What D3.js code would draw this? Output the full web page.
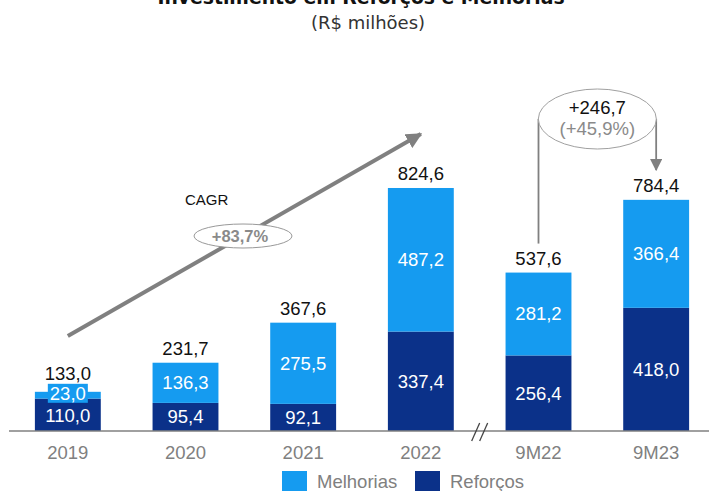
<!DOCTYPE html>
<html>
<head>
<meta charset="utf-8">
<script src="https://cdn.jsdelivr.net/npm/d3@7"></script>
<style>
  html, body { margin: 0; padding: 0; background: #fff; }
  svg { display: block; }
</style>
</head>
<body>
<svg id="chart" width="709" height="491"></svg>
<script>
// Investment in reinforcements (Reforços) and improvements (Melhorias), R$ millions
const categories = ["2019", "2020", "2021", "2022", "9M22", "9M23"];
const reforcos   = [110.0, 95.4, 92.1, 337.4, 256.4, 418.0];
const melhorias  = [23.0, 136.3, 275.5, 487.2, 281.2, 366.4];
const totals     = [133.0, 231.7, 367.6, 824.6, 537.6, 784.4];
const seriesNames = ["Melhorias", "Reforços"];
const cagrLabel = "+83,7%";
const deltaLabel = "+246,7";
const deltaPctLabel = "(+45,9%)";

const COLOR_MELHORIAS = "#159bf0";
const COLOR_REFORCOS = "#0b3189";
const GREY = "#808080";
const FONT = "'Liberation Sans', Arial, sans-serif";

const fmt = v => d3.format(".1f")(v).replace(".", ",");

const svg = d3.select("#chart");

const x = d3.scaleBand()
  .domain(categories)
  .range([9, 715])
  .paddingInner(0.44)
  .paddingOuter(0.22);

const y = d3.scaleLinear()
  .domain([0, 900])
  .range([431, 431 - 900 * 0.2947]);

const rows = categories.map((c, i) => ({ cat: c, reforcos: reforcos[i], melhorias: melhorias[i], total: totals[i] }));
const stack = d3.stack().keys(["reforcos", "melhorias"])(rows);
const colorOf = { reforcos: COLOR_REFORCOS, melhorias: COLOR_MELHORIAS };

// Titles (the main title runs off the top edge of the frame)
svg.append("text")
  .attr("x", 361).attr("y", 4)
  .attr("text-anchor", "middle")
  .style("font-family", "'DejaVu Sans', Verdana, sans-serif")
  .style("font-weight", "bold").style("font-size", "18.8px")
  .attr("fill", "#111")
  .text("Investimento em Reforços e Melhorias");

svg.append("text")
  .attr("x", 368).attr("y", 29)
  .attr("text-anchor", "middle")
  .style("font-family", "'DejaVu Sans', Verdana, sans-serif")
  .style("font-size", "18px")
  .attr("fill", "#333")
  .text("(R$ milhões)");

// Stacked bars
const layers = svg.append("g").selectAll("g")
  .data(stack).join("g")
  .attr("fill", d => colorOf[d.key]);

layers.selectAll("rect")
  .data(d => d).join("rect")
  .attr("x", d => x(d.data.cat))
  .attr("width", x.bandwidth())
  .attr("y", d => y(d[1]))
  .attr("height", d => y(d[0]) - y(d[1]));

// Baseline axis
svg.append("line")
  .attr("x1", 9).attr("x2", 709)
  .attr("y1", y(0)).attr("y2", y(0))
  .attr("stroke", GREY).attr("stroke-width", 1.5);

// Axis break marks between 2022 and 9M22
const brk = (x(categories[3]) + x.bandwidth() + x(categories[4])) / 2;
[-4, 4].forEach(o => {
  svg.append("line")
    .attr("x1", brk + o - 4).attr("y1", y(0) + 10)
    .attr("x2", brk + o + 4).attr("y2", y(0) - 8)
    .attr("stroke", "#444").attr("stroke-width", 1.3);
});

// Category labels
const xAxis = d3.axisBottom(x).tickSize(0).tickPadding(10);
const gx = svg.append("g").attr("transform", `translate(0,${y(0)})`).call(xAxis);
gx.select(".domain").remove();
gx.selectAll("text")
  .style("font-family", FONT).style("font-size", "18.5px")
  .attr("fill", GREY).attr("dy", "0.95em");

// Segment value labels
const segLabels = svg.append("g")
  .style("font-family", FONT).style("font-size", "18.5px")
  .attr("text-anchor", "middle");

rows.forEach((r, i) => {
  const cx = x(r.cat) + x.bandwidth() / 2;
  const yRef = (y(0) + y(r.reforcos)) / 2;
  let yMel = (y(r.reforcos) + y(r.reforcos + r.melhorias)) / 2;
  if (i === 0) {
    // thin segment: label gets its own small box
    yMel = y(r.reforcos + r.melhorias) + 1.5;
    boxedLabel(cx, yMel, fmt(r.melhorias));
  } else {
    segLabels.append("text").attr("x", cx).attr("y", yMel).attr("dy", "0.35em")
      .attr("fill", "#fff").text(fmt(r.melhorias));
  }
  segLabels.append("text").attr("x", cx).attr("y", i === 0 ? yRef + 0.5 : yRef).attr("dy", "0.35em")
    .attr("fill", "#fff").text(fmt(r.reforcos));
  // total on top
  segLabels.append("text").attr("x", cx)
    .attr("y", y(r.total) - (i === 0 ? 12 : 8))
    .attr("fill", "#111").text(fmt(r.total));
});

function boxedLabel(cx, cy, label) {
  const t = segLabels.append("text").attr("x", cx).attr("y", cy).attr("dy", "0.35em")
    .attr("fill", "#fff").text(label);
  const bb = t.node().getBBox();
  segLabels.insert("rect", () => t.node())
    .attr("x", bb.x - 2).attr("y", cy - 9.5)
    .attr("width", bb.width + 4).attr("height", 19)
    .attr("fill", COLOR_MELHORIAS);
}

// Arrow markers
const defs = svg.append("defs");
defs.append("marker")
  .attr("id", "arrow")
  .attr("viewBox", "0 0 10 10")
  .attr("refX", 9).attr("refY", 5)
  .attr("markerWidth", 4).attr("markerHeight", 4)
  .attr("markerUnits", "strokeWidth")
  .attr("orient", "auto")
  .append("path").attr("d", "M0,0 L10,5 L0,10 z").attr("fill", GREY);

defs.append("marker")
  .attr("id", "arrowThin")
  .attr("viewBox", "0 0 10 10")
  .attr("refX", 9).attr("refY", 5)
  .attr("markerWidth", 7).attr("markerHeight", 7)
  .attr("markerUnits", "strokeWidth")
  .attr("orient", "auto")
  .append("path").attr("d", "M0,0 L10,5 L0,10 z").attr("fill", GREY);

// CAGR trend arrow from 2019 to 2022
const ax0 = x(categories[0]) + x.bandwidth() / 2;
const ax1 = x(categories[3]) + x.bandwidth() / 2;
svg.append("line")
  .attr("x1", ax0).attr("y1", 336)
  .attr("x2", ax1).attr("y2", 134)
  .attr("stroke", GREY).attr("stroke-width", 4)
  .attr("marker-end", "url(#arrow)");

svg.append("text")
  .attr("x", 185).attr("y", 205)
  .style("font-family", FONT).style("font-size", "15px")
  .attr("fill", "#111").text("CAGR");

svg.append("ellipse")
  .attr("cx", 243).attr("cy", 236).attr("rx", 49).attr("ry", 12)
  .attr("fill", "#fff").attr("stroke", "#999").attr("stroke-width", 1);

svg.append("text")
  .attr("x", 240).attr("y", 236).attr("dy", "0.36em")
  .attr("text-anchor", "middle")
  .style("font-family", FONT).style("font-size", "16.5px").style("font-weight", "bold")
  .attr("fill", "#8a8a8a").text(cagrLabel);

// 9M22 -> 9M23 change bracket
const bx0 = x(categories[4]) + x.bandwidth() / 2;
const bx1 = x(categories[5]) + x.bandwidth() / 2;
const ecx = (bx0 + bx1) / 2;
svg.append("line")
  .attr("x1", bx0).attr("y1", y(totals[4]) - 29)
  .attr("x2", bx0).attr("y2", 119)
  .attr("stroke", GREY).attr("stroke-width", 1.8);
svg.append("line")
  .attr("x1", bx1).attr("y1", 119)
  .attr("x2", bx1).attr("y2", 170)
  .attr("stroke", GREY).attr("stroke-width", 1.8)
  .attr("marker-end", "url(#arrowThin)");

svg.append("ellipse")
  .attr("cx", ecx).attr("cy", 119).attr("rx", 59).attr("ry", 30)
  .attr("fill", "#fff").attr("stroke", "#a0a0a0").attr("stroke-width", 1);

svg.append("text")
  .attr("x", ecx).attr("y", 114)
  .attr("text-anchor", "middle")
  .style("font-family", FONT).style("font-size", "18.5px")
  .attr("fill", "#111").text(deltaLabel);
svg.append("text")
  .attr("x", ecx).attr("y", 135)
  .attr("text-anchor", "middle")
  .style("font-family", FONT).style("font-size", "18.5px")
  .attr("fill", "#8a8a8a").text(deltaPctLabel);

// Legend
const legend = svg.append("g").style("font-family", FONT).style("font-size", "18.5px");
const legendItems = [
  { name: seriesNames[0], color: COLOR_MELHORIAS, x: 282 },
  { name: seriesNames[1], color: COLOR_REFORCOS, x: 415 }
];
legendItems.forEach(it => {
  legend.append("rect").attr("x", it.x).attr("y", 471).attr("width", 25).attr("height", 22).attr("fill", it.color);
  legend.append("text").attr("x", it.x + 35).attr("y", 488).attr("fill", GREY).text(it.name);
});
</script>
</body>
</html>
